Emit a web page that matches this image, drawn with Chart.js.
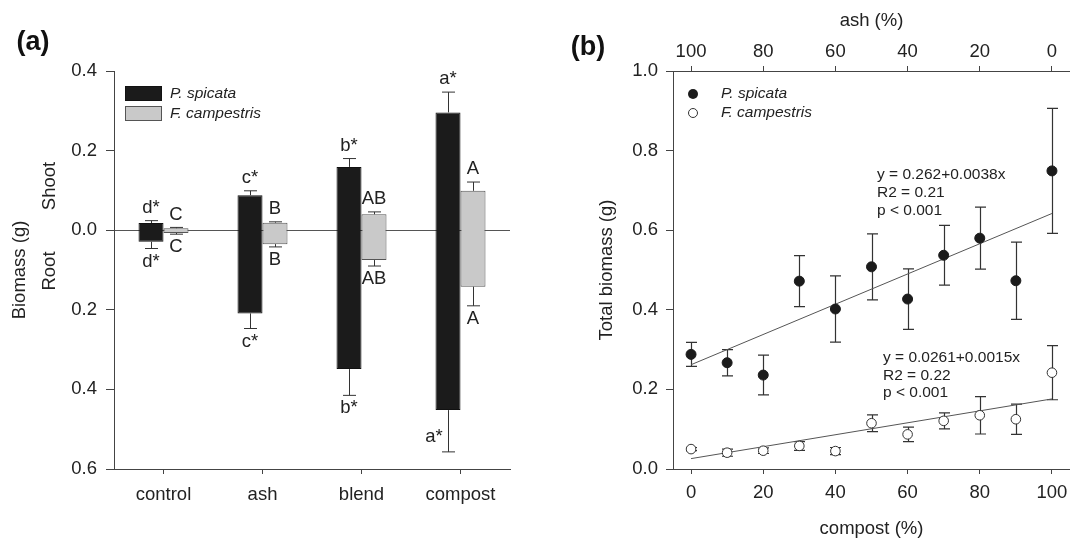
<!DOCTYPE html>
<html>
<head>
<meta charset="utf-8">
<script src="https://cdn.jsdelivr.net/npm/chart.js@4.4.1/dist/chart.umd.min.js"></script>
<style>
  body { margin: 0; background: #fff; }
  #wrap { position: relative; width: 1070px; height: 540px; }
  #wrap canvas { position: absolute; top: 0; }
</style>
</head>
<body>
<div id="wrap">
  <canvas id="chartA" width="535" height="540" style="left:0"></canvas>
  <canvas id="chartB" width="535" height="540" style="left:535px"></canvas>
</div>
<script>
const FONT = "Arial, 'Liberation Sans', sans-serif";
const INK = '#222';
const AXIS = '#444';
const TXT = 18.5;

Chart.defaults.font.family = FONT;
Chart.defaults.color = INK;

// ---- panel (a): shoot (up) / root (down) biomass, g ----
const treatments = ['control', 'ash', 'blend', 'compost'];
const spicataShoot = [0.018, 0.088, 0.159, 0.296];
const spicataShootSE = [0.006, 0.011, 0.021, 0.051];
const spicataRoot = [0.029, 0.209, 0.349, 0.452];
const spicataRootSE = [0.017, 0.038, 0.066, 0.105];
const campestrisShoot = [0.005, 0.019, 0.040, 0.099];
const campestrisShootSE = [0.002, 0.002, 0.006, 0.022];
const campestrisRoot = [0.007, 0.035, 0.075, 0.142];
const campestrisRootSE = [0.003, 0.007, 0.015, 0.048];
const spicataLetters = ['d*', 'c*', 'b*', 'a*'];
const campestrisLetters = ['C', 'B', 'AB', 'A'];
const yTicksA = [-0.6, -0.4, -0.2, 0, 0.2, 0.4];

// ---- panel (b): total biomass vs compost share ----
const compostPct = [0, 10, 20, 30, 40, 50, 60, 70, 80, 90, 100];
const spicataTotal = [0.288, 0.267, 0.236, 0.472, 0.402, 0.508, 0.427, 0.537, 0.580, 0.473, 0.749];
const spicataTotalSE = [0.030, 0.033, 0.050, 0.064, 0.083, 0.083, 0.076, 0.075, 0.078, 0.097, 0.157];
const campestrisTotal = [0.050, 0.041, 0.046, 0.058, 0.045, 0.115, 0.087, 0.121, 0.135, 0.125, 0.242];
const campestrisTotalSE = [0.004, 0.009, 0.007, 0.011, 0.009, 0.021, 0.018, 0.020, 0.047, 0.038, 0.068];
const fitX = [0, 100];
const spicataFitY = [0.262, 0.642];
const campestrisFitY = [0.0261, 0.1761];
const pctTicks = [0, 20, 40, 60, 80, 100];
const yTicksB = [0, 0.2, 0.4, 0.6, 0.8, 1.0];

function whisker(ctx, x, from, to, half) {
    ctx.beginPath();
    ctx.moveTo(x, from);
    ctx.lineTo(x, to);
    ctx.moveTo(x - half, to);
    ctx.lineTo(x + half, to);
    ctx.stroke();
}

function vText(ctx, text, x, y) {
    ctx.save();
    ctx.translate(x, y);
    ctx.rotate(-Math.PI / 2);
    ctx.fillText(text, 0, 0);
    ctx.restore();
}

const barExtras = {
    id: 'barExtras',
    afterDatasetsDraw(chart) {
        const { ctx, chartArea } = chart;
        const y = chart.scales.y;
        const series = [
            { shoot: spicataShoot, shootSE: spicataShootSE, root: spicataRoot, rootSE: spicataRootSE, letters: spicataLetters },
            { shoot: campestrisShoot, shootSE: campestrisShootSE, root: campestrisRoot, rootSE: campestrisRootSE, letters: campestrisLetters }
        ];

        ctx.save();
        ctx.strokeStyle = '#333';
        ctx.lineWidth = 1;
        ctx.fillStyle = INK;
        ctx.font = `${TXT}px ${FONT}`;
        ctx.textAlign = 'center';
        ctx.textBaseline = 'middle';

        series.forEach((s, d) => {
            chart.getDatasetMeta(d).data.forEach((bar, i) => {
                const x = Math.round(bar.x) + 0.5;
                const top = y.getPixelForValue(s.shoot[i]);
                const errTop = y.getPixelForValue(s.shoot[i] + s.shootSE[i]);
                const bot = y.getPixelForValue(-s.root[i]);
                const errBot = y.getPixelForValue(-(s.root[i] + s.rootSE[i]));
                whisker(ctx, x, top, errTop, 6.5);
                whisker(ctx, x, bot, errBot, 6.5);

                ctx.fillText(s.letters[i], bar.x, errTop - 13);
                // no room under the axis floor: put it beside the whisker
                if (errBot + 21 > chartArea.bottom) {
                    ctx.fillText(s.letters[i], bar.x - 14, errBot - 15);
                } else {
                    ctx.fillText(s.letters[i], bar.x, errBot + 13);
                }
            });
        });

        // Shoot / Root side labels
        vText(ctx, 'Shoot', 50, 186);
        vText(ctx, 'Root', 50, 271);

        // legend
        ctx.fillStyle = '#1b1b1b';
        ctx.fillRect(125.5, 86.5, 36, 14);
        ctx.strokeStyle = '#111';
        ctx.strokeRect(125.5, 86.5, 36, 14);
        ctx.fillStyle = '#c9c9c9';
        ctx.fillRect(125.5, 106.5, 36, 14);
        ctx.strokeStyle = '#555';
        ctx.strokeRect(125.5, 106.5, 36, 14);

        ctx.fillStyle = INK;
        ctx.textAlign = 'left';
        ctx.font = `italic 15.5px ${FONT}`;
        ctx.fillText('P. spicata', 170, 94);
        ctx.fillText('F. campestris', 170, 114);

        ctx.textAlign = 'center';
        ctx.font = `bold 27px ${FONT}`;
        ctx.fillStyle = '#111';
        ctx.fillText('(a)', 33, 43);
        ctx.restore();
    }
};

const scatterExtras = {
    id: 'scatterExtras',
    beforeDatasetsDraw(chart) {
        const { ctx } = chart;
        const { x, y } = chart.scales;
        const groups = [
            { mean: spicataTotal, se: spicataTotalSE },
            { mean: campestrisTotal, se: campestrisTotalSE }
        ];
        ctx.save();
        ctx.strokeStyle = '#333';
        ctx.lineWidth = 1.2;
        groups.forEach(g => {
            compostPct.forEach((p, i) => {
                const px = Math.round(x.getPixelForValue(p)) + 0.5;
                const mid = y.getPixelForValue(g.mean[i]);
                whisker(ctx, px, mid, y.getPixelForValue(g.mean[i] + g.se[i]), 5.5);
                whisker(ctx, px, mid, y.getPixelForValue(g.mean[i] - g.se[i]), 5.5);
            });
        });
        ctx.restore();
    },
    afterDatasetsDraw(chart) {
        const { ctx } = chart;
        ctx.save();
        ctx.fillStyle = INK;
        ctx.textBaseline = 'middle';

        // legend
        ctx.beginPath();
        ctx.arc(158, 94, 5, 0, Math.PI * 2);
        ctx.fillStyle = '#1b1b1b';
        ctx.fill();
        ctx.beginPath();
        ctx.arc(158, 113, 4.5, 0, Math.PI * 2);
        ctx.fillStyle = '#fff';
        ctx.fill();
        ctx.strokeStyle = '#333';
        ctx.lineWidth = 1;
        ctx.stroke();

        ctx.fillStyle = INK;
        ctx.textAlign = 'left';
        ctx.font = `italic 15.5px ${FONT}`;
        ctx.fillText('P. spicata', 186, 94);
        ctx.fillText('F. campestris', 186, 113);

        // regression notes
        ctx.font = `15.5px ${FONT}`;
        ctx.fillText('y = 0.262+0.0038x', 342, 175);
        ctx.fillText('R2 = 0.21', 342, 193);
        ctx.fillText('p < 0.001', 342, 211);
        ctx.fillText('y = 0.0261+0.0015x', 348, 358);
        ctx.fillText('R2 = 0.22', 348, 376);
        ctx.fillText('p < 0.001', 348, 393);

        ctx.textAlign = 'center';
        ctx.font = `bold 27px ${FONT}`;
        ctx.fillStyle = '#111';
        ctx.fillText('(b)', 53, 48);
        ctx.restore();
    }
};

new Chart(document.getElementById('chartA'), {
    type: 'bar',
    data: {
        labels: treatments,
        datasets: [
            {
                label: 'P. spicata',
                data: treatments.map((_, i) => [-spicataRoot[i], spicataShoot[i]]),
                backgroundColor: '#1b1b1b',
                borderColor: '#111',
                borderWidth: 1,
                borderSkipped: false,
                categoryPercentage: 0.505,
                barPercentage: 1
            },
            {
                label: 'F. campestris',
                data: treatments.map((_, i) => [-campestrisRoot[i], campestrisShoot[i]]),
                backgroundColor: '#c9c9c9',
                borderColor: '#555',
                borderWidth: 1,
                borderSkipped: false,
                categoryPercentage: 0.505,
                barPercentage: 1
            }
        ]
    },
    plugins: [barExtras],
    options: {
        responsive: false,
        animation: false,
        layout: { autoPadding: false, padding: { top: 71, right: 25, left: 0, bottom: 0 } },
        plugins: { legend: { display: false }, tooltip: { enabled: false } },
        scales: {
            x: {
                grid: { drawOnChartArea: false, offset: false, tickLength: 5, color: AXIS },
                border: { color: AXIS },
                ticks: { font: { size: TXT }, color: INK, padding: 10 },
                afterFit: s => { s.height = 71; s.paddingLeft = 0; s.paddingRight = 0; }
            },
            y: {
                min: -0.6,
                max: 0.4,
                afterBuildTicks: s => { s.ticks = yTicksA.map(v => ({ value: v })); },
                ticks: { callback: v => Math.abs(v).toFixed(1), font: { size: TXT }, color: INK, padding: 9 },
                grid: {
                    color: c => (c.tick && c.tick.value === 0) ? '#555' : 'rgba(0,0,0,0)',
                    tickColor: AXIS,
                    tickLength: 8
                },
                border: { color: AXIS },
                title: { display: true, text: 'Biomass (g)', font: { size: TXT }, color: INK, padding: { top: 9, bottom: 0 } },
                afterFit: s => { s.width = 114; s.paddingTop = 0; s.paddingBottom = 0; }
            }
        }
    }
});

new Chart(document.getElementById('chartB'), {
    type: 'scatter',
    data: {
        datasets: [
            {
                label: 'P. spicata',
                data: compostPct.map((p, i) => ({ x: p, y: spicataTotal[i] })),
                backgroundColor: '#1b1b1b',
                borderColor: '#1b1b1b',
                pointRadius: 5,
                borderWidth: 1,
                order: 1
            },
            {
                label: 'F. campestris',
                data: compostPct.map((p, i) => ({ x: p, y: campestrisTotal[i] })),
                backgroundColor: '#fff',
                borderColor: '#333',
                pointRadius: 4.8,
                borderWidth: 1,
                order: 1
            },
            {
                label: 'P. spicata fit',
                data: fitX.map((p, i) => ({ x: p, y: spicataFitY[i] })),
                showLine: true,
                pointRadius: 0,
                borderColor: '#555',
                borderWidth: 1,
                order: 2
            },
            {
                label: 'F. campestris fit',
                data: fitX.map((p, i) => ({ x: p, y: campestrisFitY[i] })),
                showLine: true,
                pointRadius: 0,
                borderColor: '#555',
                borderWidth: 1,
                order: 2
            }
        ]
    },
    plugins: [scatterExtras],
    options: {
        responsive: false,
        animation: false,
        layout: { autoPadding: false, padding: 0 },
        plugins: { legend: { display: false }, tooltip: { enabled: false } },
        scales: {
            x: {
                type: 'linear',
                position: 'bottom',
                min: -5,
                max: 105,
                afterBuildTicks: s => { s.ticks = pctTicks.map(v => ({ value: v })); },
                ticks: { font: { size: TXT }, color: INK, padding: 8 },
                grid: { drawOnChartArea: false, tickLength: 5, color: AXIS },
                border: { color: AXIS },
                title: { display: true, text: 'compost (%)', font: { size: TXT }, color: INK, padding: { top: 0, bottom: 0 } },
                afterFit: s => { s.height = 71; s.paddingLeft = 0; s.paddingRight = 0; }
            },
            x2: {
                type: 'linear',
                position: 'top',
                display: true,
                reverse: true,
                min: -5,
                max: 105,
                afterBuildTicks: s => { s.ticks = pctTicks.map(v => ({ value: v })); },
                ticks: { font: { size: TXT }, color: INK, padding: 3 },
                grid: { drawOnChartArea: false, tickLength: 5, color: AXIS },
                border: { color: AXIS },
                title: { display: true, text: 'ash (%)', font: { size: TXT }, color: INK, padding: { top: 10, bottom: 0 } },
                afterFit: s => { s.height = 71; s.paddingLeft = 0; s.paddingRight = 0; }
            },
            y: {
                min: 0,
                max: 1,
                afterBuildTicks: s => { s.ticks = yTicksB.map(v => ({ value: v })); },
                ticks: { callback: v => v.toFixed(1), font: { size: TXT }, color: INK, padding: 8 },
                grid: { drawOnChartArea: false, tickLength: 7, color: AXIS },
                border: { color: AXIS },
                title: { display: true, text: 'Total biomass (g)', font: { size: TXT }, color: INK, padding: { top: 61, bottom: 0 } },
                afterFit: s => { s.width = 138; s.paddingTop = 0; s.paddingBottom = 0; }
            }
        }
    }
});
</script>
</body>
</html>
